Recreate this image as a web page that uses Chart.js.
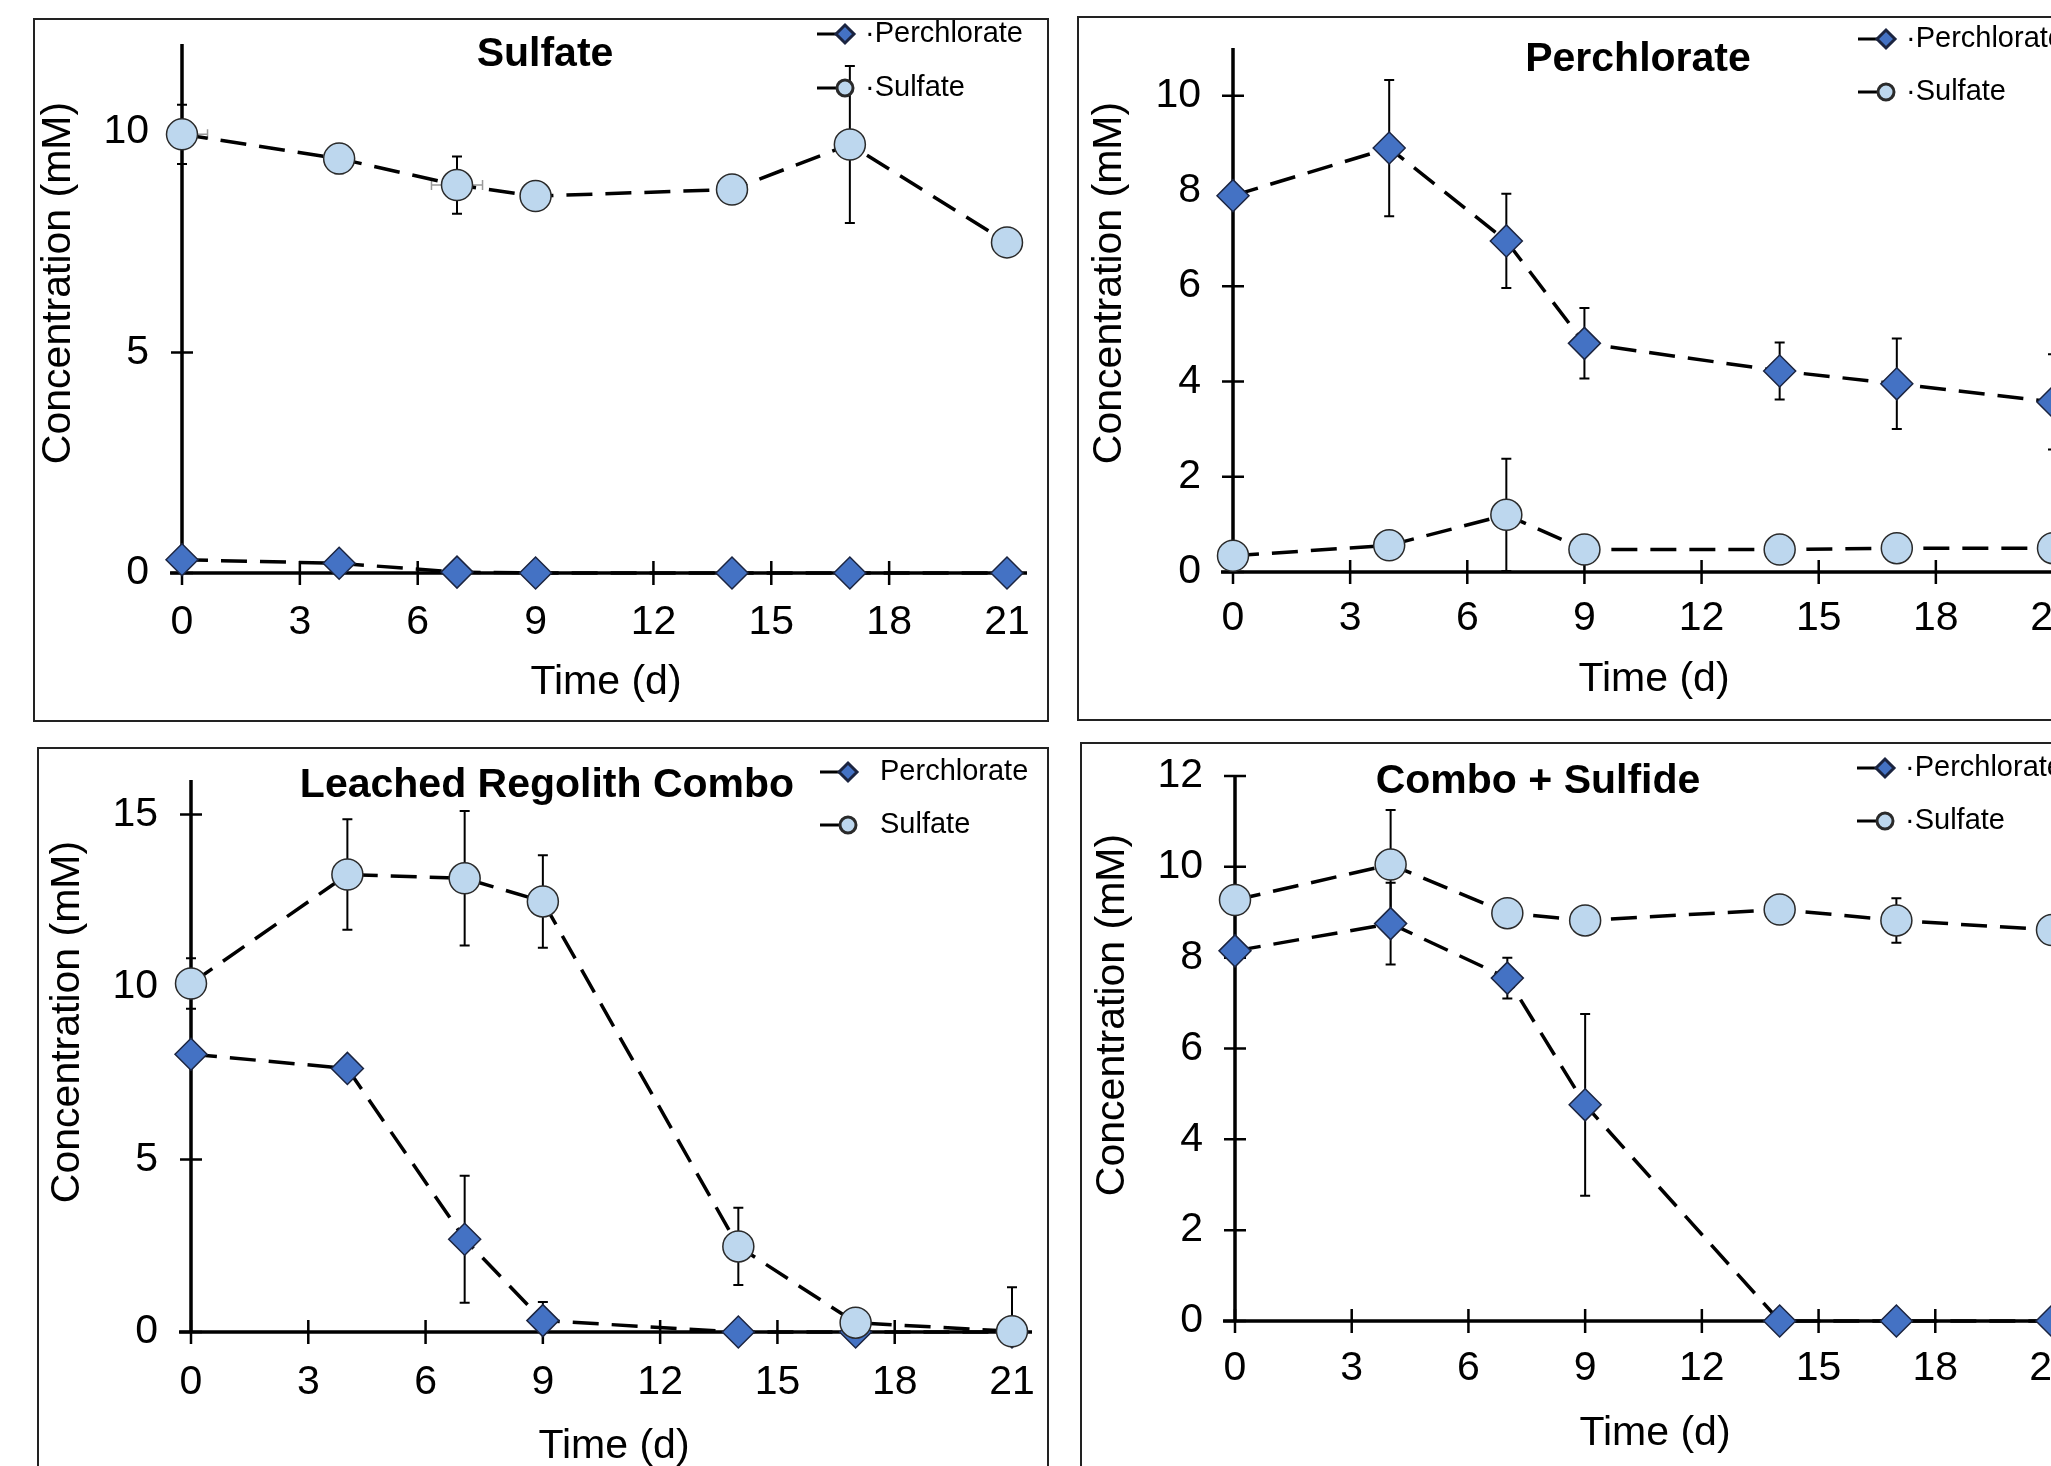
<!DOCTYPE html>
<html>
<head>
<meta charset="utf-8">
<script src="https://cdn.jsdelivr.net/npm/chart.js@4.4.1/dist/chart.umd.min.js"></script>
<style>
  html, body { margin: 0; padding: 0; background: #fff; }
  body { width: 2051px; height: 1466px; overflow: hidden; position: relative; }
  .box { position: absolute; border: 2px solid #222; box-sizing: border-box; }
  canvas { position: absolute; }
</style>
</head>
<body>
<script>
// sampling days (shared by every panel)
const days = [0, 4, 7, 9, 14, 17, 21];
const xTicks = [0, 3, 6, 9, 12, 15, 18, 21];

// "Sulfate" panel
const sulfatePerch = [0.30, 0.22, 0.02, 0, 0, 0, 0];
const sulfatePerchErr = [0, 0, 0, 0, 0, 0, 0];
const sulfateSulf = [9.95, 9.40, 8.80, 8.55, 8.70, 9.72, 7.50];
const sulfateSulfErr = [0.67, 0.33, 0.65, 0, 0, 1.78, 0];
const sulfateSulfXErr = [0.65, 0, 0.65, 0, 0, 0, 0];

// "Perchlorate" panel
const perchPerch = [7.90, 8.90, 6.95, 4.80, 4.22, 3.95, 3.57];
const perchPerchErr = [0.15, 1.43, 0.99, 0.74, 0.60, 0.95, 1.00];
const perchSulf = [0.34, 0.56, 1.20, 0.47, 0.47, 0.50, 0.50];
const perchSulfErr = [0, 0, 1.18, 0, 0, 0, 0];

// "Leached Regolith Combo" panel
const comboPerch = [8.05, 7.64, 2.69, 0.33, 0, 0, 0];
const comboPerchErr = [0.10, 0.10, 1.84, 0.54, 0, 0, 0];
const comboSulf = [10.10, 13.26, 13.15, 12.48, 2.48, 0.27, 0.02];
const comboSulfErr = [0.73, 1.60, 1.95, 1.34, 1.12, 0, 1.28];

// "Combo + Sulfide" panel
const sulfidePerch = [8.15, 8.75, 7.55, 4.76, 0, 0, 0];
const sulfidePerchErr = [0.15, 0.90, 0.45, 2.00, 0, 0, 0];
const sulfideSulf = [9.27, 10.05, 8.98, 8.82, 9.06, 8.82, 8.61];
const sulfideSulfErr = [0, 1.20, 0, 0, 0, 0.49, 0];

const FONT = "'Liberation Sans', Arial, sans-serif";
const PERCH_FILL = '#4472C4';
const SULF_FILL = '#BDD7EE';

// page layout for each panel (pixel positions on the page)
const panels = [
  { title: 'Sulfate', box: [33, 18, 1049, 722], axisX: 182, x21: 1007, y0: 573, yTop: 44,
    yMax: 12, yStep: 5, titlePos: [545, 55], legendX: 845, legendY: [34, 88], dot: true,
    yLabelRight: 149, xLabelY: 623, xTitle: [606, 683], yTitle: [59, 283],
    perch: sulfatePerch, perchErr: sulfatePerchErr, sulf: sulfateSulf, sulfErr: sulfateSulfErr, sulfXErr: sulfateSulfXErr },
  { title: 'Perchlorate', box: [1077, 16, 2093, 721], axisX: 1233, x21: 2053, y0: 572, yTop: 48,
    yMax: 11, yStep: 2, titlePos: [1638, 60], legendX: 1886, legendY: [39, 92], dot: true,
    yLabelRight: 1201, xLabelY: 619, xTitle: [1654, 680], yTitle: [1110, 283],
    perch: perchPerch, perchErr: perchPerchErr, sulf: perchSulf, sulfErr: perchSulfErr },
  { title: 'Leached Regolith Combo', box: [37, 747, 1049, 1530], axisX: 191, x21: 1012, y0: 1332, yTop: 780,
    yMax: 16, yStep: 5, titlePos: [547, 786], legendX: 848, legendY: [772, 825], dot: false,
    yLabelRight: 158, xLabelY: 1383, xTitle: [614, 1447], yTitle: [68, 1022],
    perch: comboPerch, perchErr: comboPerchErr, sulf: comboSulf, sulfErr: comboSulfErr },
  { title: 'Combo + Sulfide', box: [1080, 742, 2096, 1530], axisX: 1235, x21: 2052, y0: 1321, yTop: 776,
    yMax: 12, yStep: 2, titlePos: [1538, 782], legendX: 1885, legendY: [768, 821], dot: true,
    yLabelRight: 1203, xLabelY: 1369, xTitle: [1655, 1434], yTitle: [1113, 1015],
    perch: sulfidePerch, perchErr: sulfidePerchErr, sulf: sulfideSulf, sulfErr: sulfideSulfErr }
];

// axes with crossing ticks, error bars, titles and legend
const decorPlugin = {
  id: 'decor',
  beforeDatasetsDraw(chart, args, p) {
    const ctx = chart.ctx;
    const xs = chart.scales.x, ys = chart.scales.y;
    const ax = xs.getPixelForValue(0), ay = ys.getPixelForValue(0);
    ctx.save();
    ctx.strokeStyle = '#000';
    ctx.lineCap = 'butt';
    // axis lines
    ctx.lineWidth = 3.5;
    ctx.beginPath();
    ctx.moveTo(ax, ys.getPixelForValue(p.yMax));
    ctx.lineTo(ax, ay + 1.5);
    ctx.moveTo(ax - 12, ay);
    ctx.lineTo(xs.getPixelForValue(21) + 20, ay);
    ctx.stroke();
    // ticks crossing the axes
    ctx.lineWidth = 2.5;
    ctx.beginPath();
    ys.ticks.forEach(t => {
      const y = ys.getPixelForValue(t.value);
      ctx.moveTo(ax - 11, y);
      ctx.lineTo(ax + 11, y);
    });
    xs.ticks.forEach(t => {
      const x = xs.getPixelForValue(t.value);
      ctx.moveTo(x, ay - 12);
      ctx.lineTo(x, ay + 12);
    });
    ctx.stroke();
    // error bars
    chart.data.datasets.forEach(ds => {
      ds.data.forEach((pt, i) => {
        const e = ds.errorBars ? ds.errorBars[i] : 0;
        const x = xs.getPixelForValue(pt.x);
        if (e > 0) {
          const top = ys.getPixelForValue(pt.y + e);
          const lowVal = pt.y - e;
          const bot = ys.getPixelForValue(Math.max(lowVal, 0));
          ctx.strokeStyle = '#000';
          ctx.lineWidth = 2;
          ctx.beginPath();
          ctx.moveTo(x, top);
          ctx.lineTo(x, bot);
          ctx.moveTo(x - 5, top);
          ctx.lineTo(x + 5, top);
          if (lowVal >= 0) {
            ctx.moveTo(x - 5, bot);
            ctx.lineTo(x + 5, bot);
          }
          ctx.stroke();
        }
        const xe = ds.xErrorBars ? ds.xErrorBars[i] : 0;
        if (xe > 0) {
          const y = ys.getPixelForValue(pt.y);
          const l = xs.getPixelForValue(Math.max(pt.x - xe, 0));
          const r = xs.getPixelForValue(pt.x + xe);
          ctx.strokeStyle = '#999';
          ctx.lineWidth = 1.5;
          ctx.beginPath();
          ctx.moveTo(l, y);
          ctx.lineTo(r, y);
          ctx.moveTo(r, y - 5);
          ctx.lineTo(r, y + 5);
          if (pt.x - xe >= 0) {
            ctx.moveTo(l, y - 5);
            ctx.lineTo(l, y + 5);
          }
          ctx.stroke();
        }
      });
    });
    ctx.restore();
  },
  afterDatasetsDraw(chart, args, p) {
    const ctx = chart.ctx;
    const ox = p.box[0], oy = p.box[1];
    ctx.save();
    ctx.fillStyle = '#000';
    ctx.textAlign = 'center';
    ctx.textBaseline = 'middle';
    // axis titles
    ctx.font = '41px ' + FONT;
    ctx.fillText('Time (d)', p.xTitle[0] - ox, p.xTitle[1] - oy);
    ctx.save();
    ctx.translate(p.yTitle[0] - ox, p.yTitle[1] - oy);
    ctx.rotate(-Math.PI / 2);
    ctx.fillText('Concentration (mM)', 0, 0);
    ctx.restore();
    // panel title
    ctx.font = 'bold 41px ' + FONT;
    ctx.fillText(p.title, p.titlePos[0] - ox, p.titlePos[1] - oy);
    // legend
    const lx = p.legendX - ox;
    chart.data.datasets.forEach((ds, k) => {
      const ly = p.legendY[k] - oy;
      ctx.strokeStyle = '#000';
      ctx.lineWidth = 3;
      ctx.setLineDash([]);
      ctx.beginPath();
      ctx.moveTo(lx - 28, ly);
      ctx.lineTo(lx, ly);
      ctx.stroke();
      ctx.fillStyle = ds.pointBackgroundColor;
      ctx.strokeStyle = ds.pointBorderColor;
      Chart.helpers.drawPoint(ctx, {
        pointStyle: ds.pointStyle, radius: ds.pointStyle === 'circle' ? 8 : 9,
        rotation: 0, borderWidth: 1.5
      }, lx, ly);
      ctx.fillStyle = '#000';
      ctx.font = '29px ' + FONT;
      ctx.textAlign = 'left';
      ctx.fillText((p.dot ? '\u00B7' : '') + ds.label, lx + (p.dot ? 20 : 32), ly);
    });
    ctx.restore();
  }
};

function noPad(s) {
  s.paddingTop = 0;
  s.paddingBottom = 0;
  s.paddingLeft = 0;
  s.paddingRight = 0;
}

panels.forEach(p => {
  const [l, t, r, b] = p.box;
  const box = document.createElement('div');
  box.className = 'box';
  Object.assign(box.style, { left: l + 'px', top: t + 'px', width: (r - l) + 'px', height: (b - t) + 'px' });
  document.body.appendChild(box);

  const canvas = document.createElement('canvas');
  canvas.width = r - l;
  canvas.height = b - t;
  Object.assign(canvas.style, { left: l + 'px', top: t + 'px', width: (r - l) + 'px', height: (b - t) + 'px' });
  document.body.appendChild(canvas);

  const half = 41 * 1.2 / 2;
  new Chart(canvas.getContext('2d'), {
    type: 'line',
    data: {
      datasets: [
        {
          label: 'Perchlorate',
          data: days.map((d, i) => ({ x: d, y: p.perch[i] })),
          errorBars: p.perchErr,
          borderColor: '#000', borderWidth: 3.5, borderDash: [26, 13],
          pointStyle: 'rectRot', pointRadius: 16,
          pointBackgroundColor: PERCH_FILL, pointBorderColor: '#1b2440', pointBorderWidth: 1.5,
          fill: false, tension: 0, clip: false, order: 2
        },
        {
          label: 'Sulfate',
          data: days.map((d, i) => ({ x: d, y: p.sulf[i] })),
          errorBars: p.sulfErr,
          xErrorBars: p.sulfXErr,
          borderColor: '#000', borderWidth: 3.5, borderDash: [26, 13],
          pointStyle: 'circle', pointRadius: 15.5,
          pointBackgroundColor: SULF_FILL, pointBorderColor: '#2a2a2a', pointBorderWidth: 1.5,
          fill: false, tension: 0, clip: false, order: 1
        }
      ]
    },
    options: {
      responsive: false,
      devicePixelRatio: 1,
      animation: false,
      events: [],
      layout: { autoPadding: false, padding: { left: 0, top: p.yTop - t, right: r - p.x21, bottom: 0 } },
      plugins: {
        legend: { display: false },
        tooltip: { enabled: false },
        decor: p
      },
      scales: {
        x: {
          type: 'linear', min: 0, max: 21,
          grid: { display: false, drawTicks: false },
          border: { display: false },
          afterFit: s => { s.height = b - p.y0; noPad(s); },
          ticks: {
            stepSize: 3, autoSkip: false, maxRotation: 0, color: '#000',
            padding: p.xLabelY - p.y0 - half,
            font: { family: FONT, size: 41, lineHeight: 1.2 }
          },
          afterBuildTicks: s => { s.ticks = xTicks.map(v => ({ value: v })); }
        },
        y: {
          min: 0, max: p.yMax,
          grid: { display: false, drawTicks: false },
          border: { display: false },
          afterFit: s => { s.width = p.axisX - l; noPad(s); },
          ticks: {
            stepSize: p.yStep, includeBounds: false, color: '#000',
            padding: p.axisX - p.yLabelRight,
            font: { family: FONT, size: 41, lineHeight: 1.2 }
          }
        }
      }
    },
    plugins: [decorPlugin]
  });
});
</script>
</body>
</html>
